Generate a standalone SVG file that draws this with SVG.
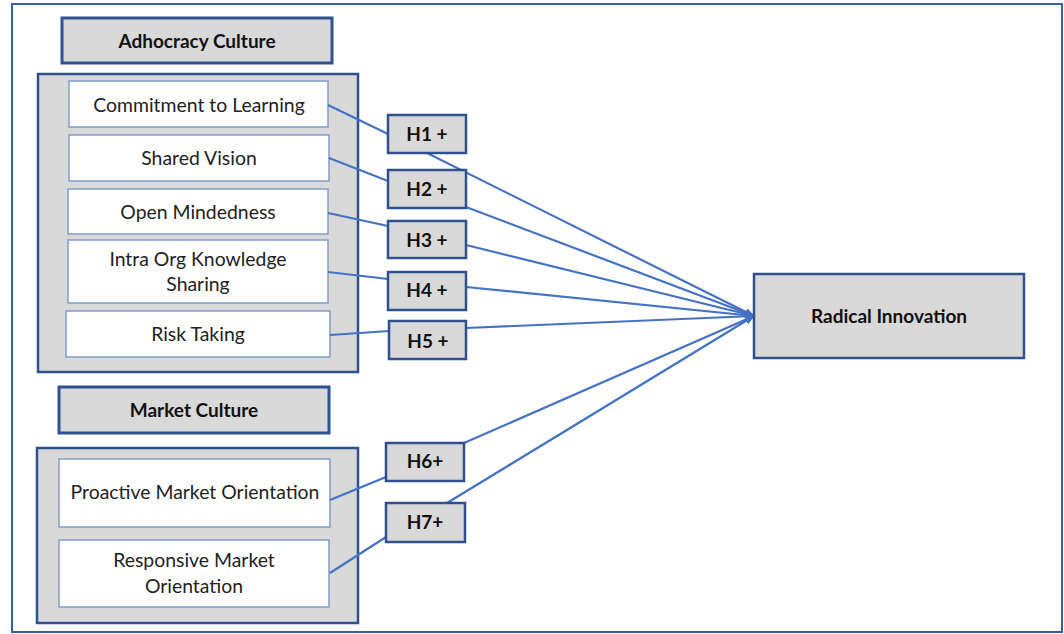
<svg xmlns="http://www.w3.org/2000/svg" width="1064" height="634" viewBox="0 0 1064 634">
<style>
.frame{fill:#ffffff;stroke:#3a5f9e;stroke-width:2}
.hdr{fill:#d9d9d9;stroke:#2f528f;stroke-width:3}
.grp{fill:#d9d9d9;stroke:#2f528f;stroke-width:2.5}
.item{fill:#ffffff;stroke:#7f9ccc;stroke-width:1.5}
.hyp{fill:#d9d9d9;stroke:#2f528f;stroke-width:2.5}
.out{fill:#d9d9d9;stroke:#2f528f;stroke-width:2.5}
.bt{font-family:Lato,"Open Sans","Liberation Sans",sans-serif;font-weight:bold;font-size:19px;fill:#111;text-anchor:middle}
.rt{font-family:Lato,"Open Sans","Liberation Sans",sans-serif;font-size:19.4px;fill:#222;text-anchor:middle}
.ln{stroke:#4472c4;stroke-width:2.2;fill:none}
</style>
<defs>
<marker id="ah" markerWidth="10" markerHeight="10" refX="9" refY="5" orient="auto" markerUnits="userSpaceOnUse">
<path d="M0,1 L10,5 L0,9 Z" fill="#4472c4"/>
</marker>
</defs>
<rect class="frame" x="12" y="4" width="1050" height="628"/>

<g id="adhocracy-header"><rect class="hdr" x="62" y="18" width="270" height="45"/><text class="bt" x="197" y="48">Adhocracy Culture</text></g>
<g id="adhocracy-group"><rect class="grp" x="38" y="74" width="320" height="298"/></g>
<g id="commitment"><rect class="item" x="69" y="81" width="259" height="46"/><text class="rt" x="199" y="112">Commitment to Learning</text></g>
<g id="shared-vision"><rect class="item" x="69" y="135" width="260" height="46"/><text class="rt" x="199" y="165">Shared Vision</text></g>
<g id="open-mindedness"><rect class="item" x="68" y="189" width="260" height="45"/><text class="rt" x="198" y="219">Open Mindedness</text></g>
<g id="intra-org"><rect class="item" x="68" y="240" width="260" height="63"/><text class="rt" x="198" y="266">Intra Org Knowledge</text><text class="rt" x="198" y="291">Sharing</text></g>
<g id="risk-taking"><rect class="item" x="66" y="311" width="264" height="46"/><text class="rt" x="198" y="341">Risk Taking</text></g>

<g id="market-header"><rect class="hdr" x="59" y="387" width="270" height="46"/><text class="bt" x="194" y="417">Market Culture</text></g>
<g id="market-group"><rect class="grp" x="37" y="448" width="321" height="175"/></g>
<g id="proactive"><rect class="item" x="59" y="459" width="271" height="68"/><text class="rt" x="195" y="499">Proactive Market Orientation</text></g>
<g id="responsive"><rect class="item" x="59" y="540" width="270" height="67"/><text class="rt" x="194" y="567">Responsive Market</text><text class="rt" x="194" y="593">Orientation</text></g>

<g id="connectors">
<line class="ln" x1="328" y1="105" x2="388" y2="134"/>
<line class="ln" x1="329" y1="158" x2="388" y2="181"/>
<line class="ln" x1="328" y1="213" x2="388" y2="226"/>
<line class="ln" x1="328" y1="272" x2="388" y2="279"/>
<line class="ln" x1="330" y1="335" x2="389" y2="331"/>
<line class="ln" x1="330" y1="500" x2="386" y2="477"/>
<line class="ln" x1="330" y1="573" x2="386" y2="537"/>
<line class="ln" x1="427" y1="153" x2="754" y2="316" marker-end="url(#ah)"/>
<line class="ln" x1="466" y1="207" x2="754" y2="316" marker-end="url(#ah)"/>
<line class="ln" x1="466" y1="245" x2="754" y2="316" marker-end="url(#ah)"/>
<line class="ln" x1="466" y1="287" x2="754" y2="316" marker-end="url(#ah)"/>
<line class="ln" x1="466" y1="328" x2="754" y2="316" marker-end="url(#ah)"/>
<line class="ln" x1="464" y1="443" x2="754" y2="316" marker-end="url(#ah)"/>
<line class="ln" x1="447" y1="503" x2="754" y2="316" marker-end="url(#ah)"/>
</g>

<g id="h1"><rect class="hyp" x="388" y="115" width="78" height="38"/><text class="bt" x="427" y="141">H1 +</text></g>
<g id="h2"><rect class="hyp" x="388" y="170" width="78" height="38"/><text class="bt" x="427" y="196">H2 +</text></g>
<g id="h3"><rect class="hyp" x="388" y="221" width="78" height="37"/><text class="bt" x="427" y="247">H3 +</text></g>
<g id="h4"><rect class="hyp" x="388" y="272" width="78" height="38"/><text class="bt" x="427" y="297">H4 +</text></g>
<g id="h5"><rect class="hyp" x="389" y="321" width="77" height="38"/><text class="bt" x="428" y="348">H5 +</text></g>
<g id="h6"><rect class="hyp" x="386" y="443" width="78" height="38"/><text class="bt" x="425" y="468">H6+</text></g>
<g id="h7"><rect class="hyp" x="386" y="503" width="79" height="39"/><text class="bt" x="425" y="529">H7+</text></g>

<g id="radical-innovation"><rect class="out" x="754" y="274" width="270" height="84"/><text class="bt" x="889" y="323">Radical Innovation</text></g>
</svg>
